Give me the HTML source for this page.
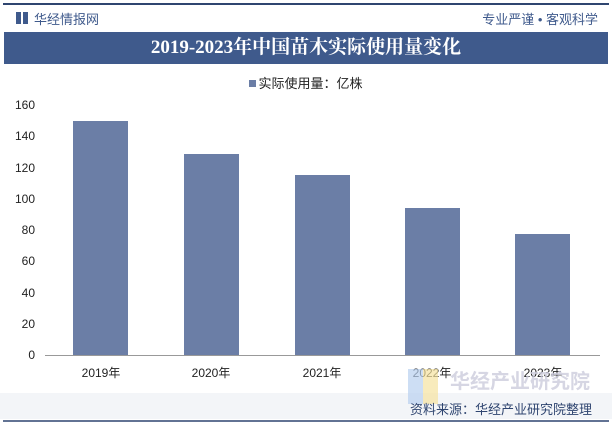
<!DOCTYPE html><html><head><meta charset="utf-8"><style>
body{margin:0;width:612px;height:426px;background:#fff;overflow:hidden;font-family:"Liberation Sans","Noto Sans CJK SC",sans-serif;position:relative}
.a{position:absolute}
</style></head><body>
<div class="a" style="left:3px;top:3px;width:606px;height:2px;background:#2f4570"></div>
<div class="a" style="left:16px;top:12px;width:5px;height:12px;background:#3f5a8c"></div>
<div class="a" style="left:23px;top:12px;width:5px;height:12px;background:#3f5a8c"></div>
<div class="a" style="left:34px;top:9px;font-size:13px;color:#3f5a8c">华经情报网</div>
<div class="a" style="right:14px;top:9px;font-size:13px;color:#3f5a8c">专业严谨 • 客观科学</div>
<div class="a" style="left:4px;top:32px;width:604px;height:32px;background:#3f5a8c;color:#fff;font-family:'Liberation Serif','Noto Serif CJK SC',serif;font-weight:bold;font-size:19px;text-align:center;line-height:32px">2019-2023年中国苗木实际使用量变化</div>
<div class="a" style="left:0;top:73px;width:612px;text-align:center;font-size:13px;color:#222"><span style="display:inline-block;width:7px;height:7px;background:#6b7ea6;margin-right:2px;vertical-align:1px"></span>实际使用量：亿株</div>
<svg class="a" style="left:0;top:0" width="612" height="426">
<rect x="0" y="393" width="612" height="26" fill="#f3f5f8"/>
<g font-size="12" fill="#222" text-anchor="end" font-family="Liberation Sans,sans-serif">
<text x="35" y="359">0</text><text x="35" y="328">20</text><text x="35" y="297">40</text><text x="35" y="265">60</text><text x="35" y="234">80</text><text x="35" y="203">100</text><text x="35" y="172">120</text><text x="35" y="140">140</text><text x="35" y="109">160</text>
</g>
<line x1="45" y1="355.5" x2="600" y2="355.5" stroke="#999"/>
<g fill="#6b7ea6">
<rect x="73" y="121" width="55" height="234"/>
<rect x="184" y="154" width="55" height="201"/>
<rect x="295" y="175" width="55" height="180"/>
<rect x="405" y="208" width="55" height="147"/>
<rect x="515" y="234" width="55" height="121"/>
</g>
<g font-size="12" fill="#222" text-anchor="middle" font-family="Liberation Sans,Noto Sans CJK SC,sans-serif">
<text x="101" y="377">2019年</text><text x="211" y="377">2020年</text><text x="322" y="377">2021年</text><text x="432" y="377">2022年</text><text x="543" y="377">2023年</text>
</g>
<rect x="408" y="369" width="15" height="35" fill="#b8d0f0" opacity="0.7"/>
<rect x="423" y="369" width="15" height="35" fill="#f5e3a0" opacity="0.7"/>
<text x="450" y="388" font-size="20" font-weight="bold" fill="#ccd" opacity="0.8" font-family="Noto Sans CJK SC,sans-serif">华经产业研究院</text>
<text x="592" y="414" font-size="13" fill="#2f4570" text-anchor="end" font-family="Noto Sans CJK SC,sans-serif">资料来源：华经产业研究院整理</text>
<line x1="3" y1="421" x2="609" y2="421" stroke="#2f4570" stroke-width="1.5"/>
</svg>
</body></html>
